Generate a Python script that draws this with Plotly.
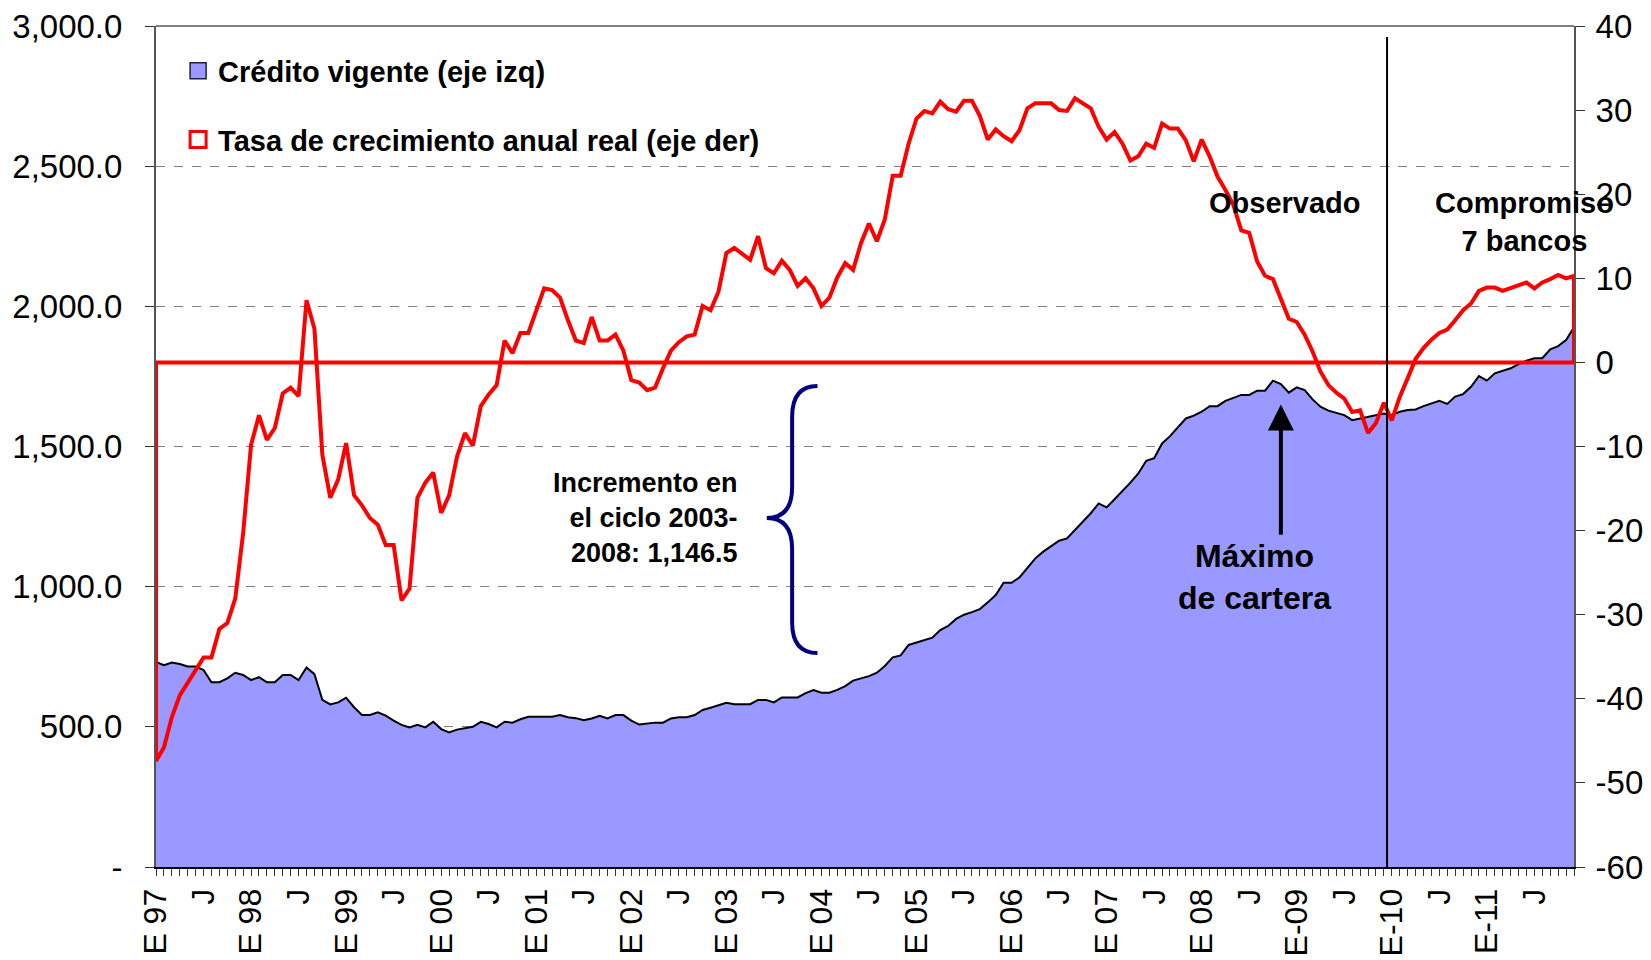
import plotly.graph_objects as go

# ---------------- data ----------------
meses = list(range(180))  # Jan-1997 .. Dec-2011 (monthly index)

credito = [
    732, 720, 729, 724, 715, 715, 703, 659, 659, 673, 693, 685,
    667, 677, 659, 659, 685, 685, 667, 712, 688, 596, 580, 587,
    604, 570, 542, 542, 552, 540, 522, 507, 498, 507, 498, 518,
    492, 480, 490, 495, 500, 518, 510, 498, 518, 515, 527, 536,
    536, 536, 536, 542, 534, 531, 524, 530, 539, 530, 542, 542,
    522, 508, 511, 515, 515, 530, 534, 534, 542, 560, 568, 578,
    586, 581, 581, 581, 596, 596, 587, 605, 605, 605, 620, 631,
    622, 622, 632, 645, 665, 673, 681, 693, 717, 748, 755, 792,
    800, 808, 818, 845, 860, 885, 900, 909, 920, 944, 970, 1014,
    1014, 1033, 1065, 1101, 1125, 1143, 1164, 1172, 1202, 1235, 1262, 1297,
    1283, 1312, 1341, 1371, 1404, 1449, 1458, 1511, 1537, 1568, 1600, 1610,
    1624, 1644, 1644, 1663, 1674, 1684, 1684, 1699, 1699, 1735, 1723, 1692,
    1711, 1701, 1668, 1642, 1628, 1621, 1612, 1594, 1600, 1606, 1612, 1618,
    1612, 1624, 1630, 1632, 1644, 1654, 1663, 1652, 1678, 1687, 1713, 1751,
    1735, 1761, 1770, 1779, 1794, 1806, 1815, 1815, 1847, 1858, 1880, 1925,
]

tasa = [
    -47.4, -45.8, -42.2, -39.6, -38.1, -36.7, -35.1, -35.1, -31.7, -31.0, -28.1, -20.3,
    -9.8, -6.3, -9.2, -7.8, -3.7, -3.0, -4.0, 7.4, 4.0, -11.0, -16.1, -13.9,
    -9.6, -15.8, -17.0, -18.5, -19.3, -21.7, -21.7, -28.3, -26.9, -16.1, -14.3, -13.1,
    -17.9, -15.8, -11.2, -8.4, -9.9, -5.2, -3.8, -2.7, 2.6, 1.1, 3.5, 3.5,
    6.2, 8.8, 8.6, 7.7, 5.0, 2.6, 2.3, 5.4, 2.6, 2.6, 3.3, 1.4,
    -2.1, -2.4, -3.3, -3.0, -0.7, 1.4, 2.4, 3.1, 3.3, 6.7, 6.2, 8.4,
    13.0, 13.6, 12.9, 12.2, 15.0, 11.2, 10.6, 12.1, 11.0, 9.1, 10.0, 8.8,
    6.7, 7.7, 10.1, 11.8, 11.0, 14.2, 16.5, 14.4, 17.0, 22.2, 22.2, 26.0,
    29.0, 29.9, 29.6, 31.0, 30.1, 29.8, 31.1, 31.1, 29.3, 26.5, 27.7, 26.9,
    26.3, 27.6, 30.2, 30.8, 30.8, 30.8, 30.0, 29.9, 31.4, 30.8, 30.2, 28.0,
    26.5, 27.4, 26.0, 24.0, 24.5, 26.0, 25.5, 28.4, 27.8, 27.8, 26.4, 23.9,
    26.5, 24.5, 22.1, 20.5, 18.7, 15.7, 15.4, 12.0, 10.3, 9.9, 7.6, 5.2,
    4.8, 3.3, 1.3, -1.1, -2.7, -3.6, -4.3, -5.9, -5.7, -8.4, -7.2, -4.8,
    -6.9, -4.1, -1.9, 0.4, 1.7, 2.7, 3.5, 3.9, 5.0, 6.2, 7.0, 8.5,
    8.9, 8.9, 8.5, 8.8, 9.1, 9.5, 8.8, 9.5, 9.9, 10.4, 10.0, 10.3,
]

etiquetas_x = ["E 97", "J", "E 98", "J", "E 99", "J", "E 00", "J", "E 01", "J",
               "E 02", "J", "E 03", "J", "E 04", "J", "E 05", "J", "E 06", "J",
               "E 07", "J", "E 08", "J", "E-09", "J", "E-10", "J", "E-11", "J"]
pos_x = list(range(0, 180, 6))

ticks_izq = [0, 500, 1000, 1500, 2000, 2500, 3000]
etiquetas_izq = ["-", "500.0", "1,000.0", "1,500.0", "2,000.0", "2,500.0", "3,000.0"]
ticks_der = [-60, -50, -40, -30, -20, -10, 0, 10, 20, 30, 40]
etiquetas_der = ["-60", "-50", "-40", "-30", "-20", "-10", "0", "10", "20", "30", "40"]

# ---------------- styling ----------------
FONT = "Liberation Sans, Arial, sans-serif"
AZUL = "#9999FF"
ROJO = "#FF0000"

fig = go.Figure()

# area: credito vigente
fig.add_trace(go.Scatter(
    x=meses, y=credito, mode="lines", fill="tozeroy",
    fillcolor=AZUL, line=dict(color="black", width=2),
    showlegend=False, hoverinfo="skip", yaxis="y",
))

# tasa de crecimiento (area with no fill: outline closes at zero)
x_tasa = [meses[0]] + meses + [meses[-1], meses[0]]
y_tasa = [0] + tasa + [0, 0]
fig.add_trace(go.Scatter(
    x=x_tasa, y=y_tasa, mode="lines",
    line=dict(color=ROJO, width=4),
    showlegend=False, hoverinfo="skip", yaxis="y2",
))

# legend entries
fig.add_trace(go.Scatter(
    x=[None], y=[None], mode="markers", name="Crédito vigente (eje izq)",
    marker=dict(symbol="square", size=16, color=AZUL, line=dict(color="#202040", width=1.5)),
    legendgroup="g1", yaxis="y",
))
fig.add_trace(go.Scatter(
    x=[None], y=[None], mode="markers", name="Tasa de crecimiento anual real (eje der)",
    marker=dict(symbol="square", size=16, color="white", line=dict(color=ROJO, width=3)),
    legendgroup="g2", yaxis="y2",
))

# vertical divider
fig.add_shape(type="line", xref="x", yref="y", x0=155.4, x1=155.4, y0=0, y1=2961,
              line=dict(color="black", width=2))

# brace
xe, xs, xt = 83.5, 80.3, 77.1
yt, ym, yb = 1716, 1245, 763
r = 110
brace = (f"M {xe},{yt} Q {xs},{yt} {xs},{yt - r} L {xs},{ym + r} "
         f"Q {xs},{ym} {xt},{ym} Q {xs},{ym} {xs},{ym - r} "
         f"L {xs},{yb + r} Q {xs},{yb} {xe},{yb}")
fig.add_shape(type="path", xref="x", yref="y", path=brace,
              line=dict(color="#000080", width=4))

# top border
fig.add_shape(type="line", xref="paper", yref="paper", x0=0, x1=1, y0=1, y1=1,
              line=dict(color="#808080", width=2))

# annotations
fig.add_annotation(x=73.7, y=1245, xref="x", yref="y", xanchor="right", yanchor="middle",
                   text="<b>Incremento en<br>el ciclo 2003-<br>2008: 1,146.5</b>",
                   align="right", showarrow=False,
                   font=dict(family=FONT, size=27, color="black"))
fig.add_annotation(x=142.5, y=19.0, xref="x", yref="y2", text="<b>Observado</b>",
                   showarrow=False, font=dict(family=FONT, size=29, color="black"))
fig.add_annotation(x=172.7, y=16.75, xref="x", yref="y2", text="<b>Compromiso<br>7 bancos</b>",
                   showarrow=False, align="center",
                   font=dict(family=FONT, size=29, color="black"))
fig.add_annotation(x=138.7, y=1036, xref="x", yref="y", text="<b>Máximo<br>de cartera</b>",
                   showarrow=False, align="center",
                   font=dict(family=FONT, size=32, color="black"))
fig.add_annotation(x=142, y=1650, xref="x", yref="y", ax=142, ay=1180, axref="x", ayref="y",
                   text="", showarrow=True, arrowhead=2, arrowsize=1.3, arrowwidth=4,
                   arrowcolor="black")

# the page body adds an 8px offset; margins compensate so the plot area
# lands on x 156..1574, y 26..867 of the window
fig.update_layout(
    width=1651, height=960,
    margin=dict(l=148, r=85, t=18, b=101, autoexpand=False),
    paper_bgcolor="white", plot_bgcolor="white",
    font=dict(family=FONT, color="black"),
    showlegend=True,
    legend=dict(x=0.0156, y=0.977, xanchor="left", yanchor="top",
                bgcolor="white", borderwidth=0, traceorder="grouped",
                tracegroupgap=28,
                font=dict(family=FONT, size=29, color="black", weight="bold")),
    xaxis=dict(
        range=[0, 179], tickmode="array", tickvals=pos_x, ticktext=etiquetas_x,
        tickangle=-90, ticks="outside", ticklen=7, tickcolor="#333333", automargin=False,
        tickfont=dict(family=FONT, size=32, color="black"), ticklabeloverflow="allow",
        showline=True, linecolor="black", linewidth=2, showgrid=False, zeroline=False,
        minor=dict(tickmode="linear", tick0=0, dtick=1, ticks="outside", ticklen=7,
                   tickcolor="#333333"),
    ),
    yaxis=dict(
        range=[0, 3000], tickmode="array", tickvals=ticks_izq, ticktext=etiquetas_izq,
        ticks="outside", ticklen=9, tickcolor="#333333", automargin=False,
        tickfont=dict(family=FONT, size=33, color="black"), ticklabelstandoff=16,
        ticklabeloverflow="allow",
        showline=True, linecolor="#555555", linewidth=2,
        showgrid=True, gridcolor="#808080", griddash="dash", gridwidth=1,
        zeroline=False,
    ),
    yaxis2=dict(
        range=[-60, 40], tickmode="array", tickvals=ticks_der, ticktext=etiquetas_der,
        overlaying="y", side="right", automargin=False,
        ticks="outside", ticklen=9, tickcolor="#333333",
        tickfont=dict(family=FONT, size=33, color="black"), ticklabelstandoff=4,
        ticklabeloverflow="allow",
        showline=True, linecolor="#555555", linewidth=2, showgrid=False, zeroline=False,
    ),
)

fig.write_html("out.html")
